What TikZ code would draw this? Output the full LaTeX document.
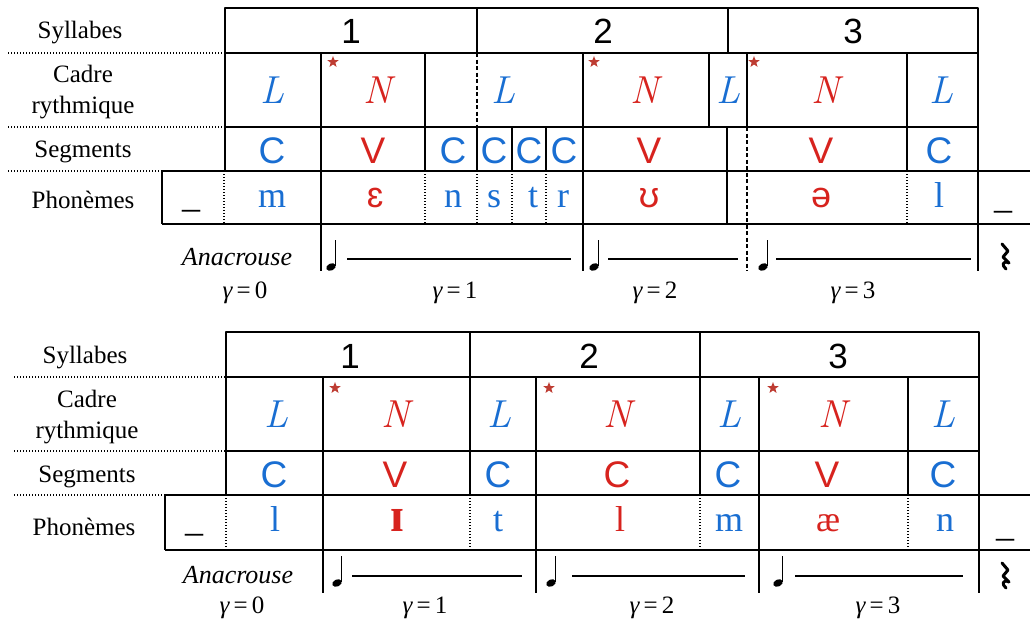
\documentclass[tikz,border=0pt]{standalone}
\usepackage{fontspec}
\setmainfont{Liberation Serif}
\newfontfamily\sansfont{Liberation Sans}
\usetikzlibrary{shapes.geometric}
\definecolor{ipablue}{RGB}{25,110,210}
\definecolor{ipared}{RGB}{215,35,30}
\definecolor{starred}{RGB}{190,60,50}
\newcommand\unitlet[1]{{\fontfamily{lmr}\itshape\selectfont #1}}
\tikzset{
  gridline/.style={line width=1.5pt},
  dotline/.style={line width=1.3pt, dash pattern=on 1.3pt off 1.7pt},
  dashline/.style={line width=1.5pt, dash pattern=on 4pt off 2.5pt},
  rowname/.style={font=\fontsize{25}{31}\selectfont, align=center, anchor=base, inner sep=0pt},
  sylnum/.style={font=\sansfont\fontsize{35}{35}\selectfont, anchor=base, inner sep=0pt},
  cadre/.style={font=\fontsize{39}{39}\selectfont, anchor=base, inner sep=0pt},
  seg/.style={font=\sansfont\fontsize{37}{37}\selectfont, anchor=base, inner sep=0pt},
  phon/.style={font=\fontsize{36}{36}\selectfont, anchor=base, inner sep=0pt},
  gam/.style={font=\fontsize{25}{25}\selectfont, anchor=base, inner sep=0pt},
  accstar/.style={star, star points=5, star point ratio=2.4, fill=starred, inner sep=0pt, minimum size=12pt},
  qnote/.pic={\fill[rotate=25] (0,0) ellipse (5 and 3.5); \draw[line width=1.1pt] (4.3,-1) -- (4.3,-27);},
  qrest/.pic={\draw[line width=3pt, line join=round, line cap=round] (-3,-12) -- (3,-5) -- (-2,1) -- (4,7) .. controls (-2,4) and (-4,9) .. (1,13);}
}
\begin{document}
\begin{tikzpicture}[x=1pt, y=-1pt, line join=round]
\useasboundingbox (0,0) rectangle (1030,621);
% --- first word ---
\draw[dotline] (8,53)--(225,53) (8,127)--(225,127) (8,171)--(162,171);
\node[rowname] (syl1) at (80,38) {Syllabes};
\node[rowname] (cad1) at (83,113) {Cadre\\rythmique};
\node[rowname] (seg1) at (83,157) {Segments};
\node[rowname] (pho1) at (83,208) {Phonèmes};
\draw[gridline] (225,8) rectangle (978,171);
\draw[gridline] (225,53)--(978,53) (225,127)--(978,127) (477,8)--(477,53) (728,8)--(728,53);
\draw[gridline] (162,171)--(1030,171) (162,224)--(1030,224) (162,171)--(162,224);
\foreach \x in {321,583,978} \draw[gridline] (\x,53)--(\x,271);
\foreach \x in {425,907} \draw[gridline] (\x,53)--(\x,171);
\draw[gridline] (709,53)--(709,127) (747,53)--(747,127) (727,127)--(727,224);
\foreach \x in {477,512,546} \draw[gridline] (\x,127)--(\x,171);
\foreach \x in {224,425,477,512,546,907} \draw[dotline] (\x,171)--(\x,224);
\draw[dashline] (477,53)--(477,127) (747,127)--(747,271);
\foreach \x/\t in {351/1,603/2,853/3} \node[sylnum] (sa\t) at (\x,43) {\t};
\foreach \x/\t/\c in {272/L/ipablue,378/N/ipared,503/L/ipablue,645/N/ipared,728/L/ipablue,826/N/ipared,941/L/ipablue}
  \node[cadre, text=\c] (ca\x) at (\x,103) {\unitlet{\t}};
\foreach \x in {333,594,754} \node[accstar] (sta\x) at (\x,62) {};
\foreach \x/\t/\c in {272/C/ipablue,373/V/ipared,453/C/ipablue,494/C/ipablue,529/C/ipablue,564/C/ipablue,649/V/ipared,821/V/ipared,939/C/ipablue}
  \node[seg, text=\c] (ga\x) at (\x,163) {\t};
\foreach \x/\t/\c in {272/m/ipablue,375/{\sansfont ɛ}/ipared,453/n/ipablue,494/s/ipablue,533/t/ipablue,563/r/ipablue,649/{\sansfont ʊ}/ipared,821/{\sansfont ə}/ipared,939/l/ipablue}
  \node[phon, text=\c] (pa\x) at (\x,207) {\t};
\node[phon] (bla) at (191,207) {\_};
\node[phon] (bra) at (1003,208) {\_};
\node[rowname, font=\itshape\fontsize{26}{26}\selectfont] (ana1) at (237,265) {Anacrouse};
\pic (na1) at (331,267) {qnote};
\pic (na2) at (594,267) {qnote};
\pic (na3) at (763,267) {qnote};
\draw[gridline] (347,259)--(571,259) (608,259)--(738,259) (776,259)--(971,259);
\pic (ra) at (1005,256) {qrest};
\foreach \x/\n in {245/0,455/1,655/2,853/3} \node[gam] (gma\n) at (\x,298) {{\itshape γ}\,=\,\n};
% --- second word ---
\draw[dotline] (14,377)--(226,377) (14,451)--(226,451) (14,495)--(165,495);
\node[rowname] (syl2) at (85,363) {Syllabes};
\node[rowname] (cad2) at (87,438) {Cadre\\rythmique};
\node[rowname] (seg2) at (87,482) {Segments};
\node[rowname] (pho2) at (84,535) {Phonèmes};
\draw[gridline] (226,332) rectangle (979,495);
\draw[gridline] (226,377)--(979,377) (226,451)--(979,451);
\draw[gridline] (165,495)--(1030,495) (165,550)--(1030,550) (165,495)--(165,550);
\foreach \x in {470,700} \draw[gridline] (\x,332)--(\x,495);
\foreach \x in {323,536,759,979} \draw[gridline] (\x,377)--(\x,593);
\draw[gridline] (908,377)--(908,495);
\foreach \x in {226,470,700,908} \draw[dotline] (\x,495)--(\x,550);
\foreach \x/\t in {350/1,589/2,838/3} \node[sylnum] (sb\t) at (\x,368) {\t};
\foreach \x/\t/\c in {276/L/ipablue,396/N/ipared,499/L/ipablue,618/N/ipared,729/L/ipablue,833/N/ipared,943/L/ipablue}
  \node[cadre, text=\c] (cb\x) at (\x,427) {\unitlet{\t}};
\foreach \x in {335,549,773} \node[accstar] (stb\x) at (\x,388) {};
\foreach \x/\t/\c in {274/C/ipablue,395/V/ipared,498/C/ipablue,617/C/ipared,728/C/ipablue,827/V/ipared,943/C/ipablue}
  \node[seg, text=\c] (gb\x) at (\x,487) {\t};
\foreach \x/\t/\c in {275/l/ipablue,397/{\fontsize{48}{48}\selectfont\bfseries ɪ}/ipared,498/t/ipablue,620/l/ipared,729/m/ipablue,828/æ/ipared,945/n/ipablue}
  \node[phon, text=\c] (pb\x) at (\x,531) {\t};
\node[phon] (blb) at (194,531) {\_};
\node[phon] (brb) at (1005,536) {\_};
\node[rowname, font=\itshape\fontsize{26}{26}\selectfont] (ana2) at (238,583) {Anacrouse};
\pic (nb1) at (337,583) {qnote};
\pic (nb2) at (551,583) {qnote};
\pic (nb3) at (778,583) {qnote};
\draw[gridline] (352,576)--(522,576) (572,576)--(745,576) (795,576)--(963,576);
\pic (rb) at (1005,575) {qrest};
\foreach \x/\n in {242/0,425/1,652/2,878/3} \node[gam] (gmb\n) at (\x,613) {{\itshape γ}\,=\,\n};
\end{tikzpicture}
\end{document}
